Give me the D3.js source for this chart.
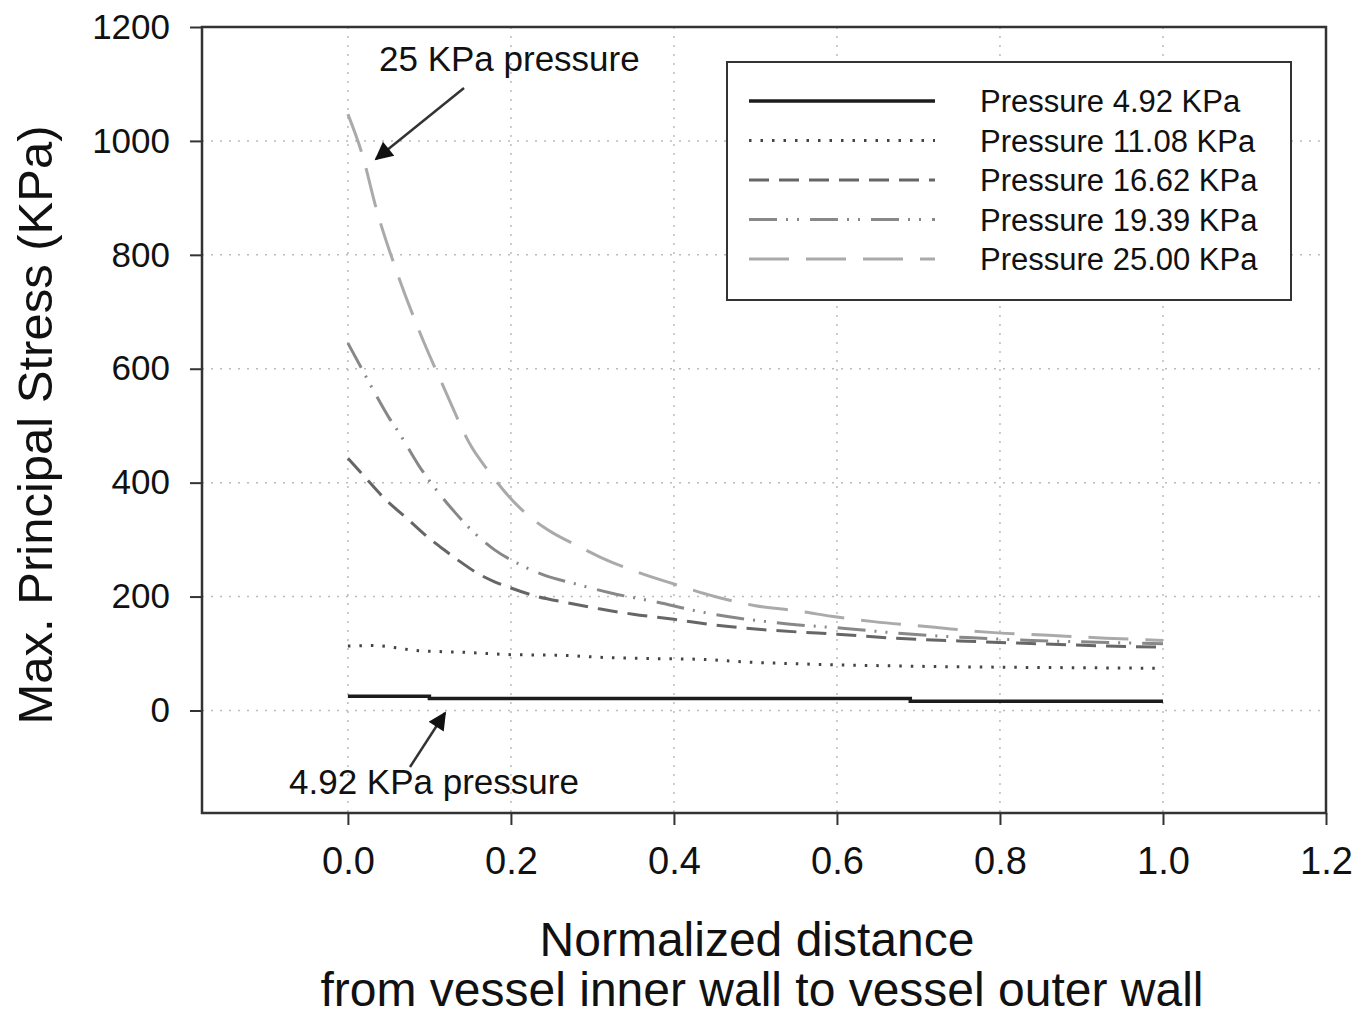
<!DOCTYPE html>
<html>
<head>
<meta charset="utf-8">
<script src="https://cdn.jsdelivr.net/npm/d3@7"></script>
<style>
  body { margin: 0; background: #fff; }
  text { font-family: "Liberation Sans", Arial, sans-serif; fill: #111; }
</style>
</head>
<body>
<script>
var width = 1368;
var height = 1019;

// series values (x = normalized distance, y = stress in KPa)
var p492 = [[0, 25], [0.1, 25], [0.1, 21], [0.69, 21], [0.69, 16], [1.0, 16]];
var p1108 = [[0, 113], [0.03, 114], [0.087, 105], [0.145, 102], [0.2, 98], [0.26, 97], [0.316, 93],
             [0.373, 91], [0.43, 90], [0.49, 85], [0.55, 82], [0.68, 78], [0.8, 76], [0.9, 75], [1.0, 74]];
var p1662 = [[0, 443], [0.022, 408], [0.045, 372], [0.075, 334], [0.1, 302], [0.12, 280], [0.139, 260],
             [0.16, 240], [0.18, 226], [0.2, 215], [0.23, 201], [0.27, 189], [0.31, 178], [0.35, 169],
             [0.4, 160], [0.45, 150], [0.5, 143], [0.55, 138], [0.6, 134], [0.67, 127], [0.75, 122],
             [0.83, 118], [0.91, 114], [1.0, 111]];
var p1939 = [[0, 645], [0.017, 600], [0.034, 555], [0.05, 515], [0.063, 487], [0.087, 430], [0.112, 381],
             [0.13, 350], [0.152, 316], [0.18, 282], [0.21, 257], [0.24, 238], [0.28, 222], [0.32, 207],
             [0.38, 190], [0.43, 174], [0.48, 162], [0.54, 152], [0.61, 144], [0.68, 135], [0.76, 128],
             [0.84, 123], [0.92, 120], [1.0, 117]];
var p2500 = [[0, 1047], [0.017, 979], [0.036, 875], [0.06, 770], [0.087, 668], [0.118, 566], [0.152, 462],
             [0.17, 425], [0.21, 357], [0.24, 322], [0.286, 286], [0.31, 269], [0.357, 242], [0.4, 222],
             [0.45, 200], [0.5, 184], [0.55, 175], [0.6, 164], [0.645, 156], [0.72, 146], [0.78, 138],
             [0.86, 132], [0.93, 127], [1.0, 123]];

var seriesNames = ["Pressure 4.92 KPa", "Pressure 11.08 KPa", "Pressure 16.62 KPa", "Pressure 19.39 KPa", "Pressure 25.00 KPa"];
var seriesData = [p492, p1108, p1662, p1939, p2500];
var seriesColors = ["#1c1c1c", "#444", "#666", "#888", "#aaa"];
var seriesDash = [null, "2.5,9", "20,10", "28,9,2,9,2,11", "40,17"];

var xTicks = [0, 0.2, 0.4, 0.6, 0.8, 1.0, 1.2];
var yTicks = [0, 200, 400, 600, 800, 1000, 1200];

var margin = { left: 202, top: 27, right: 1326, bottom: 813 };

var svg = d3.select("body")
    .append("svg")
    .attr("width", width)
    .attr("height", height);

var x = d3.scaleLinear().domain([-0.179, 1.2]).range([margin.left, margin.right]);
var y = d3.scaleLinear().domain([-180, 1200]).range([margin.bottom, margin.top]);

// grid lines
var grid = svg.append("g");
grid.selectAll(".gx")
    .data(xTicks.slice(0, -1))
    .enter().append("line")
    .attr("x1", function(d) { return x(d); })
    .attr("x2", function(d) { return x(d); })
    .attr("y1", margin.top)
    .attr("y2", margin.bottom)
    .attr("stroke", "#bbb")
    .attr("stroke-width", 1.5)
    .attr("stroke-dasharray", "2,7");
grid.selectAll(".gy")
    .data(yTicks.slice(0, -1))
    .enter().append("line")
    .attr("x1", margin.left)
    .attr("x2", margin.right)
    .attr("y1", function(d) { return y(d); })
    .attr("y2", function(d) { return y(d); })
    .attr("stroke", "#bbb")
    .attr("stroke-width", 1.5)
    .attr("stroke-dasharray", "2,7");

// axes
var xAxis = d3.axisBottom(x).tickValues(xTicks).tickSize(12).tickPadding(22)
    .tickFormat(d3.format(".1f"));
var yAxis = d3.axisLeft(y).tickValues(yTicks).tickSize(12).tickPadding(20)
    .tickFormat(d3.format("d"));

var gx = svg.append("g")
    .attr("transform", "translate(0," + margin.bottom + ")")
    .call(xAxis);
gx.select(".domain").remove();
gx.selectAll("line").attr("stroke", "#333").attr("stroke-width", 2);
gx.selectAll("text")
    .style("font-family", "'Liberation Sans Narrow', 'Liberation Sans', Arial, sans-serif")
    .style("font-size", "38px")
    .attr("fill", "#222");

var gy = svg.append("g")
    .attr("transform", "translate(" + margin.left + ",0)")
    .call(yAxis);
gy.select(".domain").remove();
gy.selectAll("line").attr("stroke", "#333").attr("stroke-width", 2);
gy.selectAll("text")
    .style("font-size", "35px")
    .attr("fill", "#222");

// frame
svg.append("rect")
    .attr("x", margin.left)
    .attr("y", margin.top)
    .attr("width", margin.right - margin.left)
    .attr("height", margin.bottom - margin.top)
    .attr("fill", "none")
    .attr("stroke", "#333")
    .attr("stroke-width", 2.5);

// lines
var line = d3.line()
    .x(function(d) { return x(d[0]); })
    .y(function(d) { return y(d[1]); })
    .curve(d3.curveMonotoneX);
var stepLine = d3.line()
    .x(function(d) { return x(d[0]); })
    .y(function(d) { return y(d[1]); });

svg.selectAll(".series")
    .data(seriesData)
    .enter().append("path")
    .attr("class", "series")
    .attr("d", function(d, i) { return i === 0 ? stepLine(d) : line(d); })
    .attr("fill", "none")
    .attr("stroke", function(d, i) { return seriesColors[i]; })
    .attr("stroke-width", function(d, i) { return i === 0 ? 3.5 : 3; })
    .attr("stroke-dasharray", function(d, i) { return seriesDash[i]; });

// legend
var legend = svg.append("g");
legend.append("rect")
    .attr("x", 727).attr("y", 62)
    .attr("width", 564).attr("height", 238)
    .attr("fill", "#fff")
    .attr("stroke", "#333")
    .attr("stroke-width", 2);

var rows = legend.selectAll(".row")
    .data(seriesNames)
    .enter().append("g")
    .attr("transform", function(d, i) { return "translate(0," + (101 + i * 39.5) + ")"; });
rows.append("line")
    .attr("x1", 749).attr("x2", 935)
    .attr("y1", 0).attr("y2", 0)
    .attr("stroke", function(d, i) { return seriesColors[i]; })
    .attr("stroke-width", function(d, i) { return i === 0 ? 3.5 : 3; })
    .attr("stroke-dasharray", function(d, i) { return seriesDash[i]; });
rows.append("text")
    .attr("x", 980)
    .attr("y", 11)
    .style("font-size", "31px")
    .text(function(d) { return d; });

// annotations
var defs = svg.append("defs");
defs.append("marker")
    .attr("id", "arrow")
    .attr("viewBox", "0 0 10 10")
    .attr("refX", 9).attr("refY", 5)
    .attr("markerWidth", 22).attr("markerHeight", 18)
    .attr("markerUnits", "userSpaceOnUse")
    .attr("orient", "auto")
    .append("path")
    .attr("d", "M0,0 L10,5 L0,10 z")
    .attr("fill", "#111");

svg.append("text")
    .attr("x", 379).attr("y", 71)
    .style("font-size", "35px")
    .text("25 KPa pressure");
svg.append("line")
    .attr("x1", 464).attr("y1", 88)
    .attr("x2", 376).attr("y2", 159)
    .attr("stroke", "#333").attr("stroke-width", 2.5)
    .attr("marker-end", "url(#arrow)");

svg.append("text")
    .attr("x", 289).attr("y", 794)
    .style("font-size", "35px")
    .text("4.92 KPa pressure");
svg.append("line")
    .attr("x1", 410).attr("y1", 767)
    .attr("x2", 445).attr("y2", 713)
    .attr("stroke", "#333").attr("stroke-width", 2.5)
    .attr("marker-end", "url(#arrow)");

// axis titles
svg.append("text")
    .attr("transform", "translate(52,425) rotate(-90)")
    .attr("text-anchor", "middle")
    .style("font-size", "49px")
    .text("Max. Principal Stress (KPa)");
svg.append("text")
    .attr("x", 757).attr("y", 956)
    .attr("text-anchor", "middle")
    .style("font-size", "48px")
    .text("Normalized distance");
svg.append("text")
    .attr("x", 762).attr("y", 1006)
    .attr("text-anchor", "middle")
    .style("font-size", "48px")
    .text("from vessel inner wall to vessel outer wall");
</script>
</body>
</html>
